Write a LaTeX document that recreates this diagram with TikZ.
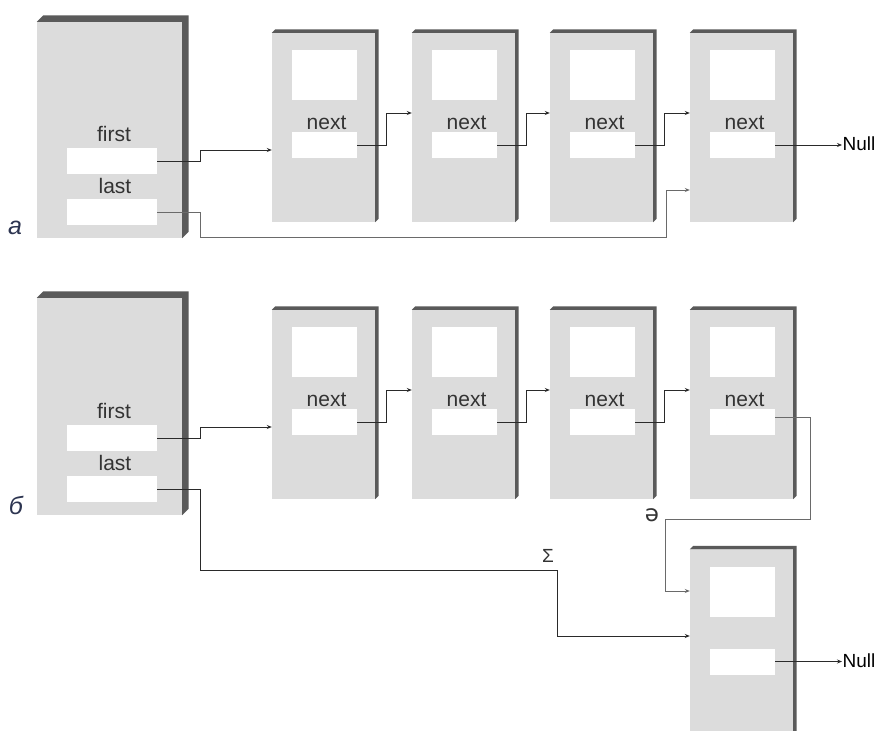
\documentclass[tikz,border=0pt]{standalone}
\usepackage{fontspec}
\setmainfont{Liberation Sans}
\newfontfamily\dvs{DejaVu Sans}
\usetikzlibrary{arrows.meta,calc}
\definecolor{face}{HTML}{DCDCDC}
\definecolor{side}{HTML}{5A5A5A}
\definecolor{ink}{HTML}{333333}
\definecolor{wire}{HTML}{2A2A2A}
\definecolor{wiregray}{HTML}{6A6A6A}
\definecolor{tag}{HTML}{2C3450}
\newcommand\boxshade[2]{\fill[side] (#1.north west) -- ++(#2,-#2) -| ($(#1.south east)+(#2,-#2)$) -- (#1.south east) -- (#1.north east) -- cycle;}
\begin{document}
\begin{tikzpicture}[x=1pt,y=-1pt,
 bigbox/.style={rectangle,fill=face,draw=none,inner sep=0pt,minimum width=145pt,minimum height=216pt},
 cellbox/.style={rectangle,fill=face,draw=none,inner sep=0pt,minimum width=103pt,minimum height=189pt},
 wbig/.style={rectangle,fill=white,inner sep=0pt,minimum width=90pt,minimum height=26pt},
 wdata/.style={rectangle,fill=white,inner sep=0pt,minimum width=65pt,minimum height=50pt},
 wnext/.style={rectangle,fill=white,inner sep=0pt,minimum width=65pt,minimum height=26pt},
 lab/.style={font=\fontsize{21}{21}\selectfont,text=ink,inner sep=0pt,anchor=base},
 small/.style={font=\fontsize{19}{19}\selectfont,text=black,inner sep=0.5pt},
 glyph/.style={font=\fontsize{23}{23}\selectfont\dvs,text=ink,inner sep=0pt},
 tagl/.style={font=\fontsize{25}{25}\selectfont\itshape,text=tag,inner sep=0pt},
 link/.style={draw=wire,line width=0.9pt,-{Stealth[length=5pt,width=4pt]}},
 linkg/.style={draw=wiregray,line width=1pt,-{Stealth[length=5pt,width=4pt]}}
]
\clip (0,0) rectangle (881,731);
\fill[white] (0,0) rectangle (881,731);

% ---------- part a ----------
\node[bigbox] (ba) at (109.5,130) {};
\boxshade{ba}{6.5}
\node[lab] (tfa) at (114,141) {first};
\node[wbig] (fa) at (112,161) {};
\node[lab] (tla) at (115,193) {last};
\node[wbig] (la) at (112,212) {};
\node[tagl] (taga) at (15,228) {а};

\foreach \i/\x in {1/323.5,2/463.5,3/601.5,4/741.5}{
  \node[cellbox] (ca\i) at (\x,127.5) {};
  \boxshade{ca\i}{3.5}
  \node[wdata] (da\i) at ({\x+1},75) {};
  \node[lab] (tna\i) at ({\x+3},129) {next};
  \node[wnext] (na\i) at ({\x+1},145) {};
}
\node[small,anchor=west] (nulla) at (842,144) {Null};

\draw[link] (fa.east) -- ++(43,0) |- ($(ca1.west)+(0,22.5)$);
\draw[link] (na1.east) -- ++(29,0) |- ($(ca2.west)+(0,-14.5)$);
\draw[link] (na2.east) -- ++(29,0) |- ($(ca3.west)+(0,-14.5)$);
\draw[link] (na3.east) -- ++(29,0) |- ($(ca4.west)+(0,-14.5)$);
\draw[link] (na4.east) -- (na4.east -| nulla.west);
\draw[linkg] (la.east) -- ++(43,0) -- ++(0,25) -| ($(ca4.west)+(-23,62.5)$) -- ($(ca4.west)+(0,62.5)$);

% ---------- part b ----------
\node[bigbox,minimum height=217pt] (bb) at (109.5,406.5) {};
\boxshade{bb}{6.5}
\node[lab] (tfb) at (114,418) {first};
\node[wbig] (fb) at (112,438) {};
\node[lab] (tlb) at (115,470) {last};
\node[wbig] (lb) at (112,489) {};
\node[tagl] (tagb) at (16,505) {б};

\foreach \i/\x in {1/323.5,2/463.5,3/601.5,4/741.5}{
  \node[cellbox] (cb\i) at (\x,404.5) {};
  \boxshade{cb\i}{3.5}
  \node[wdata] (db\i) at ({\x+1},352) {};
  \node[lab] (tnb\i) at ({\x+3},406) {next};
  \node[wnext] (nb\i) at ({\x+1},422) {};
}
\node[cellbox] (c5) at (741.5,644) {};
\boxshade{c5}{3.5}
\node[wdata] (d5) at (742.5,591.5) {};
\node[wnext] (n5) at (742.5,661.5) {};
\node[small,anchor=west] (nullb) at (842,660.5) {Null};

\draw[link] (fb.east) -- ++(43,0) |- ($(cb1.west)+(0,22.5)$);
\draw[link] (nb1.east) -- ++(29,0) |- ($(cb2.west)+(0,-14.5)$);
\draw[link] (nb2.east) -- ++(29,0) |- ($(cb3.west)+(0,-14.5)$);
\draw[link] (nb3.east) -- ++(29,0) |- ($(cb4.west)+(0,-14.5)$);
\draw[linkg] ($(nb4.east)+(0,-5)$) -- ++(35,0) -- ++(0,102) -| ($(c5.west)+(-24,-53)$) -- ($(c5.west)+(0,-53)$);
\node[glyph] (dlab) at (652,515) {ə};
\draw[link] (lb.east) -- ++(43,0) -- ++(0,81) -| ($(c5.west)+(-132,-8)$) -- ($(c5.west)+(0,-8)$);
\node[small,text=ink] (slab) at (548,556) {Σ};
\draw[link] (n5.east) -- (n5.east -| nullb.west);
\end{tikzpicture}
\end{document}
